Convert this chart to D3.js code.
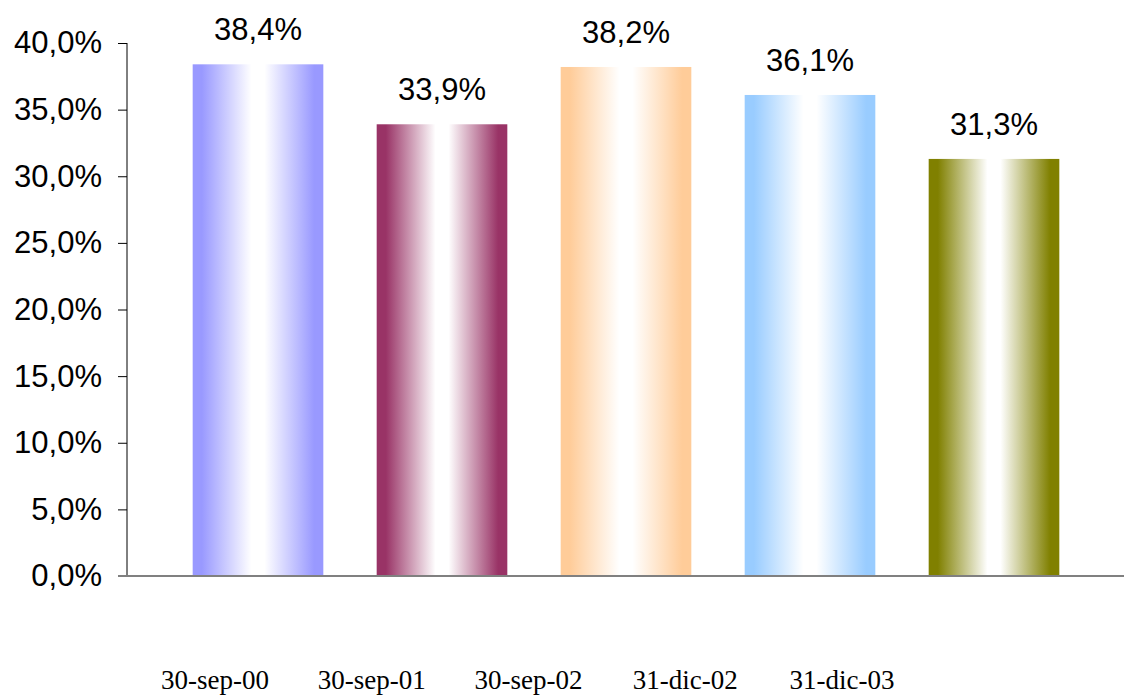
<!DOCTYPE html>
<html>
<head>
<meta charset="utf-8">
<script src="https://cdn.jsdelivr.net/npm/d3@7"></script>
<style>
  body { margin: 0; background: #fff; }
  svg { display: block; }
</style>
</head>
<body>
<svg id="chart" width="1130" height="696" viewBox="0 0 1130 696"></svg>
<script>
const categories = ["30-sep-00", "30-sep-01", "30-sep-02", "31-dic-02", "31-dic-03"]
const values = [38.4, 33.9, 38.2, 36.1, 31.3]
const barColors = ["#9999FF", "#993366", "#FFCC99", "#99CCFF", "#808000"]
const yTicks = [0, 5, 10, 15, 20, 25, 30, 35, 40]

const svg = d3.select("#chart")
const fmt = v => d3.format(".1f")(v).replace(".", ",") + "%"

const x = d3.scaleBand()
    .domain(categories)
    .range([166, 1086])
    .paddingInner(0.29)
    .paddingOuter(0.145)
const y = d3.scaleLinear()
    .domain([0, 40])
    .range([576, 43])
// the date labels sit on their own row, not under the bars
const xl = d3.scalePoint()
    .domain(categories)
    .range([215, 842])

// one gradient per bar: colour at the edges, white in the middle
const defs = svg.append("defs")
barColors.forEach((c, i) => {
    const g = defs.append("linearGradient")
        .attr("id", "grad" + i)
        .attr("x1", "0%").attr("x2", "100%")
        .attr("y1", "0%").attr("y2", "0%")
    g.append("stop").attr("offset", "0%").attr("stop-color", c)
    g.append("stop").attr("offset", "7%").attr("stop-color", c)
    g.append("stop").attr("offset", "45%").attr("stop-color", "#ffffff")
    g.append("stop").attr("offset", "55%").attr("stop-color", "#ffffff")
    g.append("stop").attr("offset", "93%").attr("stop-color", c)
    g.append("stop").attr("offset", "100%").attr("stop-color", c)
})

svg.selectAll(".bar")
    .data(values)
    .enter()
    .append("rect")
    .attr("class", "bar")
    .attr("x", (d, i) => x(categories[i]))
    .attr("width", x.bandwidth())
    .attr("y", d => y(d))
    .attr("height", d => y(0) - y(d))
    .attr("fill", (d, i) => `url(#grad${i})`)

// y axis
const yAxis = svg.append("g")
    .attr("transform", "translate(127,0)")
    .call(d3.axisLeft(y).tickValues(yTicks).tickSize(9).tickPadding(16).tickFormat(fmt))
yAxis.select(".domain").attr("stroke", "#000").attr("d", `M0,${y(40)}V${y(0)}`)
yAxis.selectAll(".tick line").attr("stroke", "#000")
yAxis.selectAll(".tick text")
    .attr("font-family", "Liberation Sans, Arial, sans-serif")
    .attr("font-size", 31)
    .attr("fill", "#000")

// x axis baseline
svg.append("line")
    .attr("x1", 118).attr("x2", 1124)
    .attr("y1", y(0)).attr("y2", y(0))
    .attr("stroke", "#808080")
    .attr("stroke-width", 2)

// value labels
svg.selectAll(".vlabel")
    .data(values)
    .enter()
    .append("text")
    .attr("class", "vlabel")
    .attr("x", (d, i) => x(categories[i]) + x.bandwidth() / 2)
    .attr("y", d => y(d) - 24)
    .attr("text-anchor", "middle")
    .attr("font-family", "Liberation Sans, Arial, sans-serif")
    .attr("font-size", 31)
    .text(d => fmt(d))

// category labels
svg.selectAll(".clabel")
    .data(categories)
    .enter()
    .append("text")
    .attr("class", "clabel")
    .attr("x", d => xl(d))
    .attr("y", 689)
    .attr("text-anchor", "middle")
    .attr("font-family", "Liberation Serif, Times New Roman, serif")
    .attr("font-size", 27)
    .text(d => d)
</script>
</body>
</html>
